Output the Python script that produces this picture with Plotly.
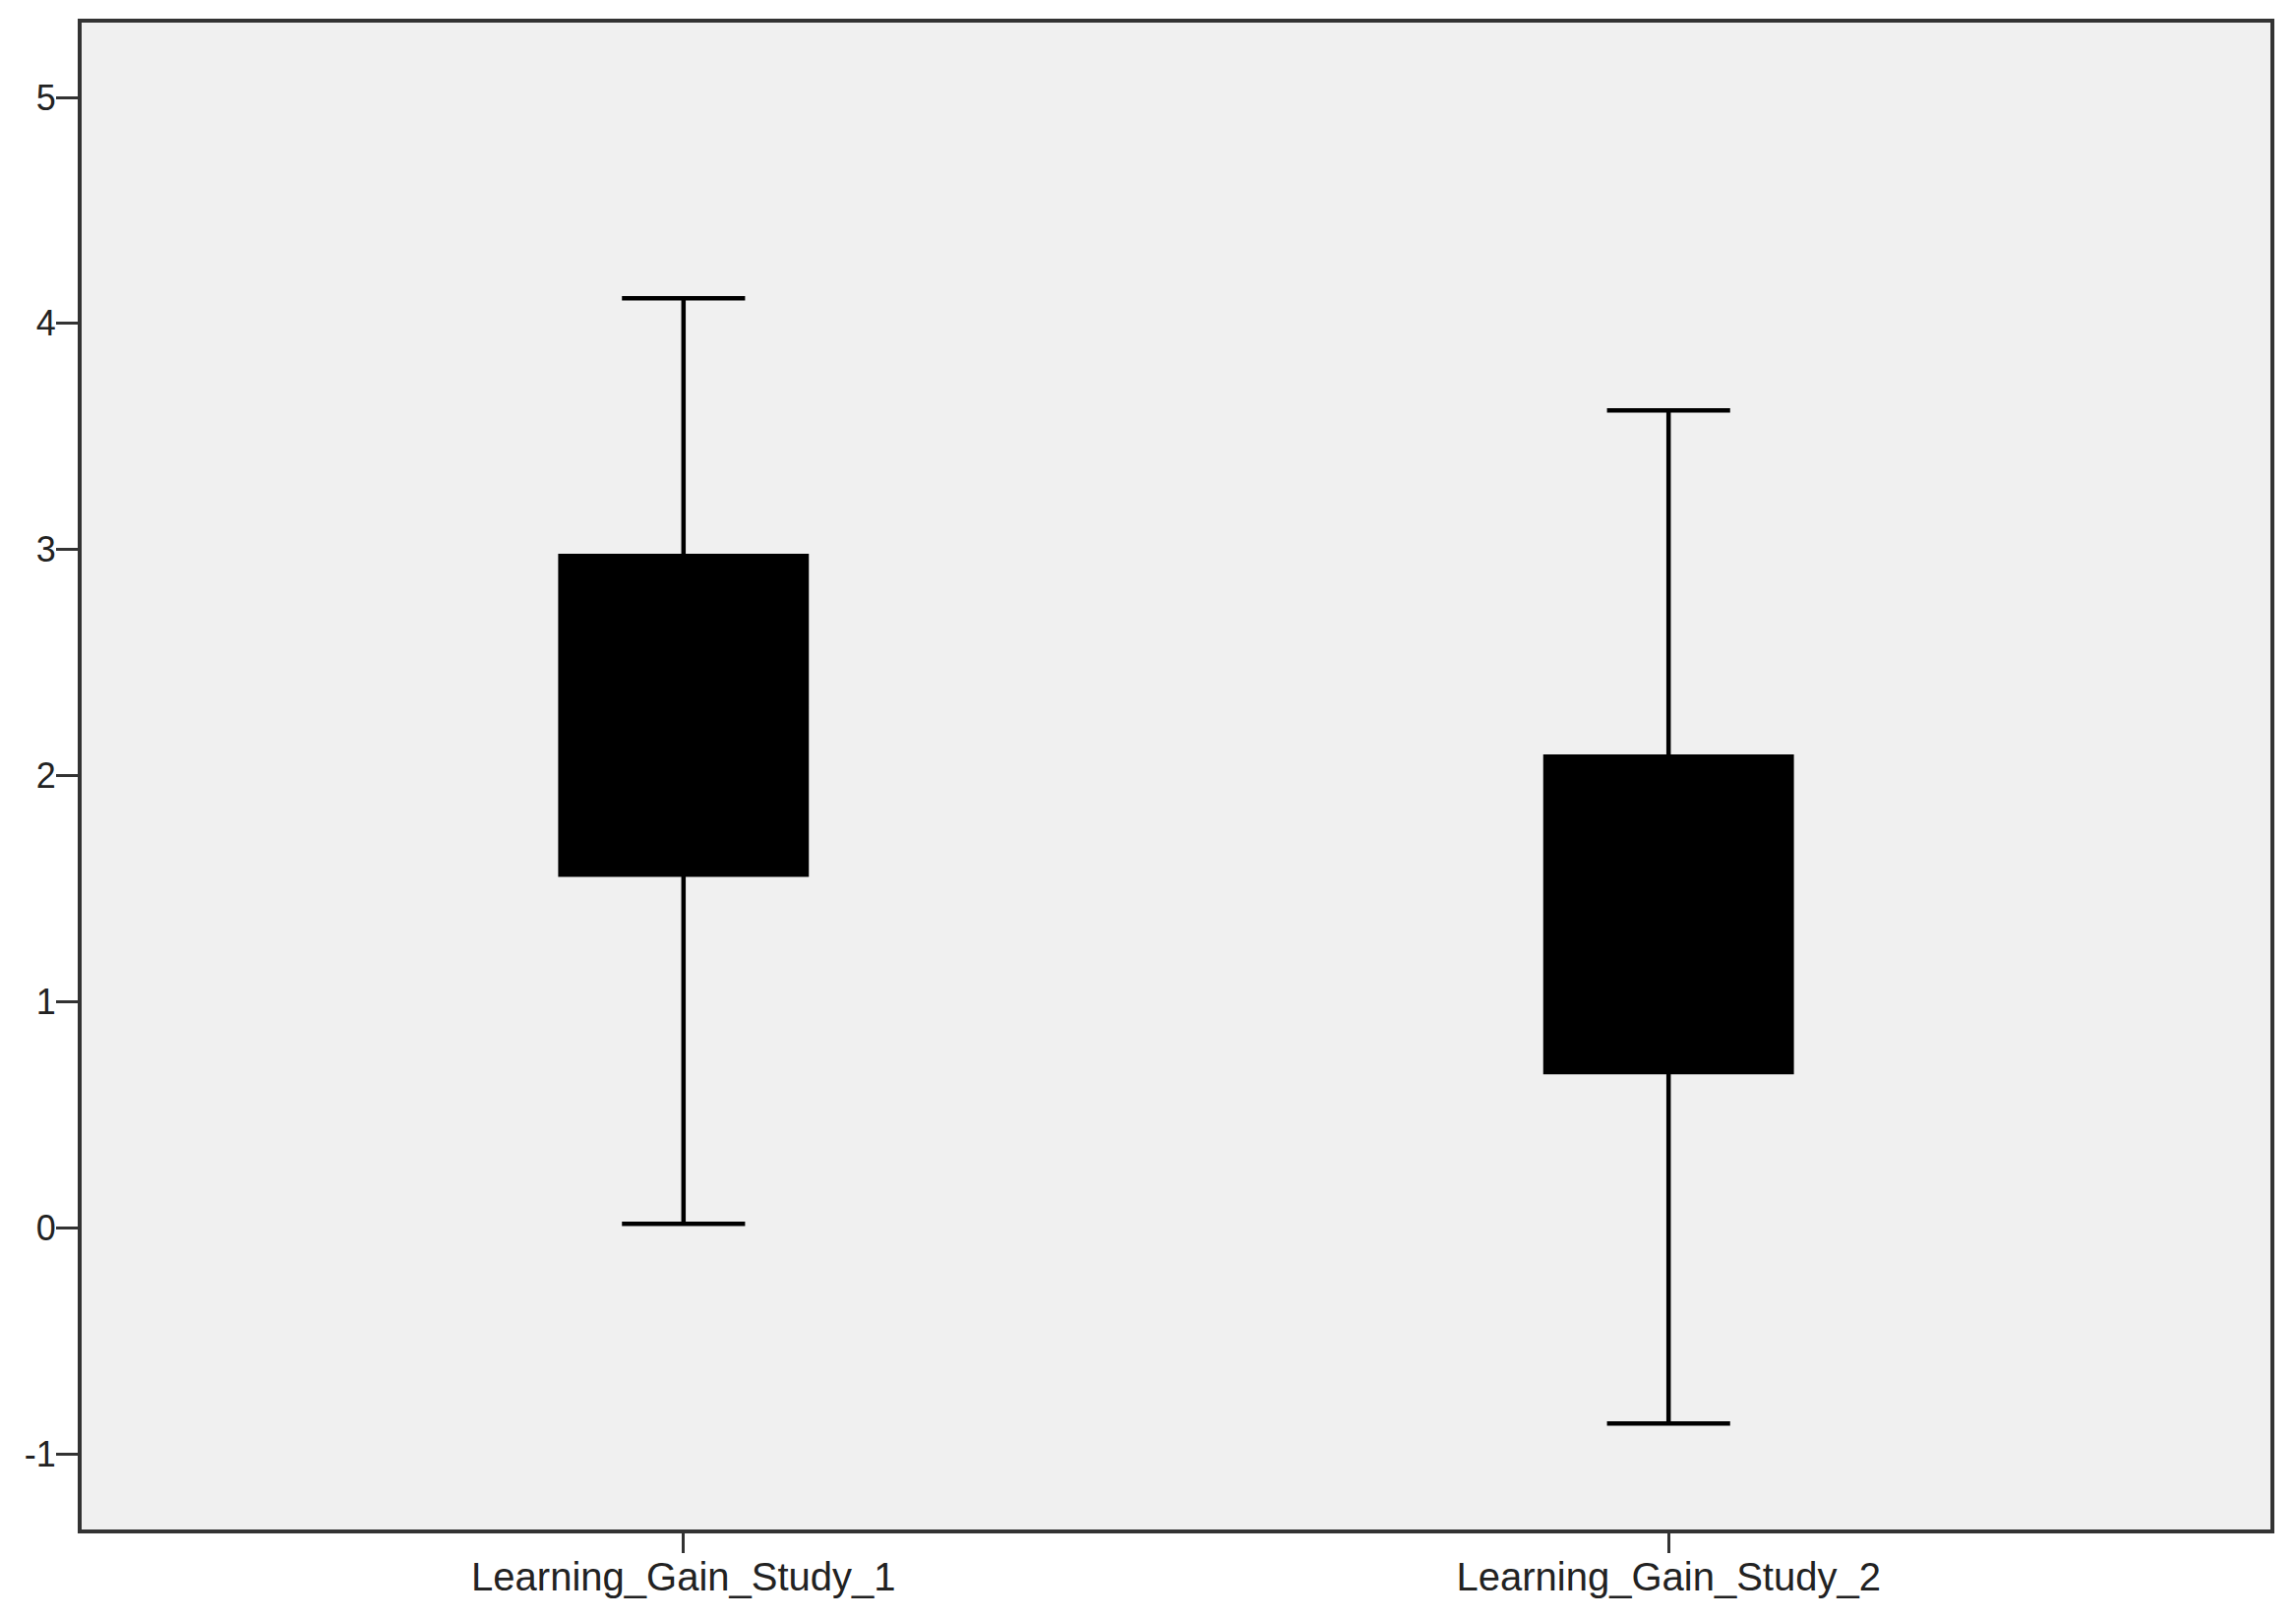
import plotly.graph_objects as go

categories = ["Learning_Gain_Study_1", "Learning_Gain_Study_2"]
lower_fence = [0.017, -0.866]
q1 = [1.562, 0.688]
median = [2.30, 1.40]
q3 = [2.972, 2.084]
upper_fence = [4.112, 3.616]
y_ticks = [-1, 0, 1, 2, 3, 4, 5]

fig = go.Figure()
fig.add_trace(go.Box(
    x=categories,
    q1=q1, median=median, q3=q3,
    lowerfence=lower_fence, upperfence=upper_fence,
    fillcolor="black",
    line=dict(color="black", width=4.5),
    whiskerwidth=0.5,
    width=0.25,
    boxpoints=False,
    hoverinfo="skip",
    showlegend=False,
))

font_family = "Liberation Sans, Arial, sans-serif"
fig.update_layout(
    width=2334, height=1645,
    margin=dict(l=75, r=34, t=15, b=98),
    paper_bgcolor="white",
    plot_bgcolor="#f0f0f0",
    showlegend=False,
    xaxis=dict(
        type="category",
        range=[-0.611, 1.611],
        automargin=False,
        showline=True, mirror=True, linecolor="#333333", linewidth=4,
        ticks="outside", ticklen=20, tickwidth=3, tickcolor="#333333",
        showgrid=False, zeroline=False,
        tickfont=dict(family=font_family, size=40, color="#222222"),
        ticklabelstandoff=-10,
    ),
    yaxis=dict(
        range=[-1.335, 5.331],
        automargin=False,
        tickvals=y_ticks,
        ticktext=[str(v) for v in y_ticks],
        showline=True, mirror=True, linecolor="#333333", linewidth=4,
        ticks="outside", ticklen=22, tickwidth=3, tickcolor="#333333",
        showgrid=False, zeroline=False,
        tickfont=dict(family=font_family, size=36, color="#222222"),
        ticklabelstandoff=-7,
    ),
)

fig.write_html("out.html")
